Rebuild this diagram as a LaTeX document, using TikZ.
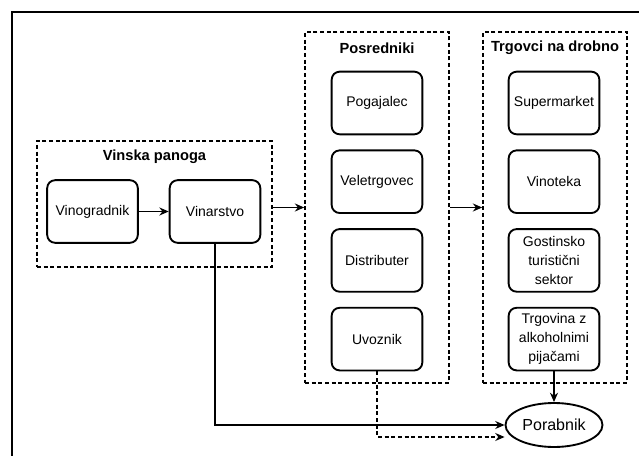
\documentclass[tikz,border=0pt]{standalone}
\usepackage{fontspec}
\setmainfont{Liberation Sans}
\usetikzlibrary{shapes.geometric,arrows.meta}
\tikzset{
    memberbox/.style={draw=black,fill=white,rounded corners=6pt,line width=1.4pt,minimum width=68pt,minimum height=47pt,inner sep=2pt,align=center,font=\fontsize{10.5}{14.2}\selectfont},
    groupbox/.style={draw=black,dash pattern=on 3pt off 2pt,line width=1.2pt,inner sep=0pt},
    grouptitle/.style={font=\fontsize{11}{13}\selectfont\bfseries},
    flowline/.style={line width=1.4pt,-{Stealth[length=7pt,width=6pt]}}
}

\begin{document}
\begin{tikzpicture}[x=0.75pt,y=-0.75pt]
    \pgfmathsetmacro{\px}{0.75} % one pixel of the drawing in pt
    \pgfmathsetmacro{\midcol}{377} % centre of the Posredniki column
    \pgfmathsetmacro{\rightcol}{554} % centre of the Trgovci column
    \pgfmathsetmacro{\toprow}{103} % centre of the first box in a column
    \pgfmathsetmacro{\rowstep}{78.7} % vertical step from box to box

    \useasboundingbox (0,0) rectangle (639,456);
    \draw[line width=1.2pt] (12,456) -- (12,12) -- (639,12); % frame, open at the right and bottom

    % Vinska panoga
    \node[groupbox,minimum width=235*\px pt,minimum height=126*\px pt] (vinska) at (154.5,204) {};
    \node[grouptitle] (vinskatitle) at (154.5,157) {Vinska panoga};
    \node[memberbox] (vinogradnik) at (92.5,211.5) {Vinogradnik};
    \node[memberbox] (vinarstvo) at (215,211.5) {Vinarstvo};

    % Posredniki
    \node[groupbox,minimum width=144*\px pt,minimum height=351*\px pt] (posredniki) at (\midcol,207.5) {};
    \node[grouptitle] (posrednikititle) at (\midcol,48) {Posredniki};
    \node[memberbox] (pogajalec) at (\midcol,\toprow) {Pogajalec};
    \node[memberbox] (veletrgovec) at (\midcol,\toprow+\rowstep) {Veletrgovec};
    \node[memberbox] (distributer) at (\midcol,\toprow+2*\rowstep) {Distributer};
    \node[memberbox] (uvoznik) at (\midcol,\toprow+3*\rowstep) {Uvoznik};

    % Trgovci na drobno
    \node[groupbox,minimum width=144*\px pt,minimum height=351*\px pt] (trgovci) at (\rightcol+1,207.5) {};
    \node[grouptitle] (trgovcititle) at (\rightcol+1,48) {Trgovci na drobno};
    \node[memberbox] (supermarket) at (\rightcol,\toprow) {Supermarket};
    \node[memberbox] (vinoteka) at (\rightcol,\toprow+\rowstep) {Vinoteka};
    \node[memberbox] (gostinsko) at (\rightcol,\toprow+2*\rowstep) {Gostinsko\\turistični\\sektor};
    \node[memberbox] (trgovina) at (\rightcol,\toprow+3*\rowstep) {Trgovina z\\alkoholnimi\\pijačami};

    \node[draw=black,ellipse,line width=1.4pt,minimum width=97*\px pt,minimum height=44*\px pt,inner sep=0pt,font=\fontsize{12}{14}\selectfont] (porabnik) at (\rightcol,425) {Porabnik};

    % connectors
    \draw[flowline] (vinogradnik) -- (vinarstvo);
    \draw[flowline] (vinska.east |- posredniki.west) -- (posredniki.west);
    \draw[flowline] (posredniki.east) -- (trgovci.west);
    \draw[flowline] (vinarstvo.south) |- (porabnik.west);
    \draw[flowline,dash pattern=on 3pt off 2pt] (uvoznik.south) |- ([yshift=-9pt]porabnik.west);
    \draw[flowline] (trgovina.south) -- (porabnik.north);
\end{tikzpicture}
\end{document}
